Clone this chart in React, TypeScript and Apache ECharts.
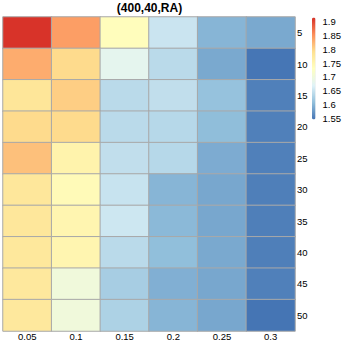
import React, { useEffect, useRef } from "react";
import * as echarts from "echarts";

const xCategories = ["0.05", "0.1", "0.15", "0.2", "0.25", "0.3"];
const yCategories = ["5", "10", "15", "20", "25", "30", "35", "40", "45", "50"];

// one array per row (y = 5 .. 50), values for x = 0.05 .. 0.3
const row5 = [1.912, 1.84, 1.735, 1.652, 1.6, 1.59];
const row10 = [1.83, 1.795, 1.68, 1.64, 1.59, 1.548];
const row15 = [1.78, 1.805, 1.64, 1.645, 1.612, 1.556];
const row20 = [1.795, 1.795, 1.64, 1.637, 1.607, 1.556];
const row25 = [1.815, 1.755, 1.645, 1.637, 1.592, 1.556];
const row30 = [1.777, 1.74, 1.65, 1.6, 1.588, 1.555];
const row35 = [1.777, 1.75, 1.655, 1.603, 1.588, 1.555];
const row40 = [1.776, 1.75, 1.64, 1.608, 1.59, 1.555];
const row45 = [1.775, 1.7, 1.625, 1.595, 1.588, 1.556];
const row50 = [1.775, 1.7, 1.63, 1.6, 1.588, 1.547];
const rows = [row5, row10, row15, row20, row25, row30, row35, row40, row45, row50];

const legendTicks = [1.55, 1.6, 1.65, 1.7, 1.75, 1.8, 1.85, 1.9];
const scaleMin = 1.547;
const scaleMax = 1.914;
const palette = ["#4575B4", "#91BFDB", "#E0F3F8", "#FFFFBF", "#FEE090", "#FC8D59", "#D73027"];
const title = "(400,40,RA)";

export default function App() {
  const ref = useRef<HTMLDivElement>(null);
  useEffect(() => {
    if (!ref.current) return;
    const chart = echarts.init(ref.current, null, { renderer: "svg" });
    const data: number[][] = [];
    rows.forEach((r, yi) => r.forEach((v, xi) => data.push([xi, yi, v])));
    const font = "Liberation Sans, Arial, sans-serif";
    chart.setOption({
      animation: false,
      backgroundColor: "#ffffff",
      title: {
        text: title,
        left: 149.5,
        textAlign: "center",
        top: 1,
        padding: 0,
        textStyle: { fontFamily: font, fontSize: 12, fontWeight: "bold", color: "#000", lineHeight: 14 },
      },
      grid: [
        { left: 3, right: 50, top: 17, bottom: 14 },
        { left: 312, width: 3.5, top: 17.5, height: 102 },
      ],
      xAxis: [
        {
          type: "category",
          data: xCategories,
          gridIndex: 0,
          axisLine: { show: false },
          axisTick: { show: false },
          axisLabel: { fontFamily: font, fontSize: 9.5, color: "#000", margin: 0 },
          splitLine: { show: false },
        },
        { type: "value", gridIndex: 1, show: false },
      ],
      yAxis: [
        {
          type: "category",
          data: yCategories,
          inverse: true,
          position: "right",
          gridIndex: 0,
          axisLine: { show: false },
          axisTick: { show: false },
          axisLabel: { fontFamily: font, fontSize: 9.5, color: "#000", margin: 2 },
          splitLine: { show: false },
        },
        {
          type: "value",
          gridIndex: 1,
          min: scaleMin,
          max: scaleMax,
          position: "right",
          axisLine: { show: false },
          axisTick: { show: false },
          splitLine: { show: false },
          axisLabel: {
            customValues: legendTicks,
            fontFamily: font,
            fontSize: 9.5,
            color: "#000",
            margin: 7,
            formatter: (v: number) => String(Number(v.toFixed(2))),
          },
        },
      ],
      visualMap: {
        type: "continuous",
        min: scaleMin,
        max: scaleMax,
        seriesIndex: 0,
        calculable: false,
        hoverLink: false,
        show: true,
        left: 312,
        top: 17.5,
        padding: 0,
        itemWidth: 3.5,
        itemHeight: 102,
        text: ["", ""],
        inRange: { color: palette },
      },
      series: [
        {
          type: "heatmap",
          xAxisIndex: 0,
          yAxisIndex: 0,
          data,
          itemStyle: { borderColor: "#a8a8a8", borderWidth: 1 },
          emphasis: { disabled: true },
        },
      ],
    });
    return () => chart.dispose();
  }, []);
  return (
    <div
      ref={ref}
      style={{ position: "fixed", left: 0, top: 0, width: 345, height: 345, background: "#fff" }}
    />
  );
}
